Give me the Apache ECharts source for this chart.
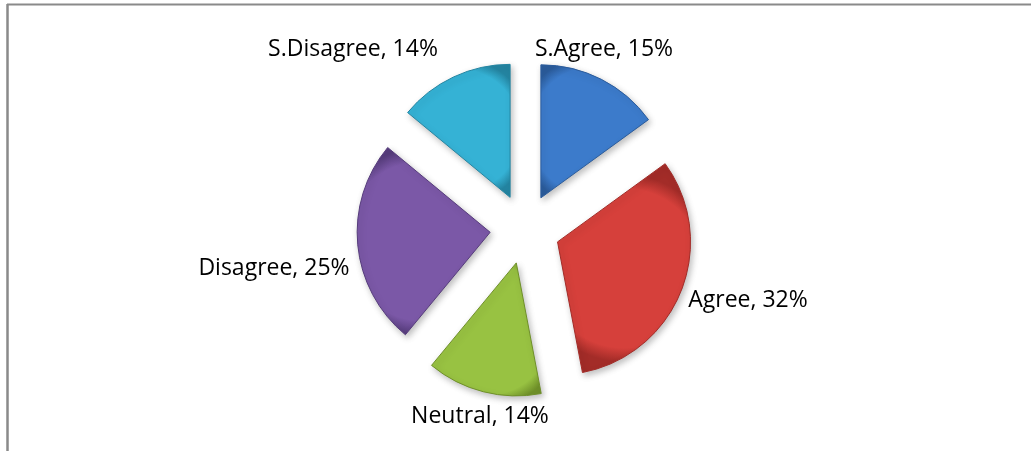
<!DOCTYPE html>
<html>
<head>
<meta charset="utf-8">
<script src="https://cdn.jsdelivr.net/npm/echarts@6/dist/echarts.min.js"></script>
<style>
html,body{margin:0;padding:0;background:#fff;}
#chart{width:1031px;height:451px;}
</style>
</head>
<body>
<div id="chart"></div>
<script>
var categories = ['S.Agree', 'Agree', 'Neutral', 'Disagree', 'S.Disagree'];
var percents = [15, 32, 14, 25, 14];
var colors = ['#3c7bcb', '#d6403b', '#98c242', '#7b58a7', '#35b2d5'];
var edgeColors = ['#2b5c9c', '#a32c28', '#6f9029', '#563c7c', '#2485a2'];

// label anchor points (label placement style, not data)
var labelAnchors = [[604, 49], [748, 300], [480, 416], [274, 268], [353, 49]];

var chart = echarts.init(document.getElementById('chart'), null, {renderer: 'canvas'});

var data = categories.map(function (c, i) {
  return {
    name: c,
    value: percents[i],
    selected: true,
    itemStyle: {
      color: {
        type: 'radial', x: 0.5, y: 0.5, r: 0.7,
        colorStops: [{offset: 0, color: colors[i]}, {offset: 0.85, color: colors[i]}, {offset: 1, color: edgeColors[i]}]
      },
      borderColor: edgeColors[i],
      borderWidth: 1
    }
  };
});

var labelGraphics = categories.map(function (c, i) {
  return {
    type: 'text',
    silent: true,
    style: {
      text: c + ', ' + percents[i] + '%',
      x: labelAnchors[i][0],
      y: labelAnchors[i][1],
      align: 'center',
      verticalAlign: 'middle',
      fontFamily: 'Open Sans',
      fontSize: 23,
      fill: '#000000'
    }
  };
});

chart.setOption({
  animation: false,
  backgroundColor: '#ffffff',
  graphic: [
    {type: 'line', shape: {x1: 7, y1: 4.5, x2: 1031, y2: 4.5}, style: {stroke: '#8a8a8a', lineWidth: 2}, silent: true},
    {type: 'line', shape: {x1: 7.5, y1: 4, x2: 7.5, y2: 451}, style: {stroke: '#8a8a8a', lineWidth: 2.5}, silent: true}
  ].concat(labelGraphics),
  series: [{
    type: 'pie',
    center: [525, 229],
    radius: 133,
    startAngle: 90,
    clockwise: true,
    selectedMode: 'multiple',
    selectedOffset: 35,
    data: data,
    itemStyle: {
      shadowBlur: 6,
      shadowColor: 'rgba(0,0,0,0.25)',
      shadowOffsetX: 2,
      shadowOffsetY: 3
    },
    label: {show: false},
    labelLine: {show: false},
    emphasis: {disabled: true},
    select: {itemStyle: {}}
  }]
});
</script>
</body>
</html>
